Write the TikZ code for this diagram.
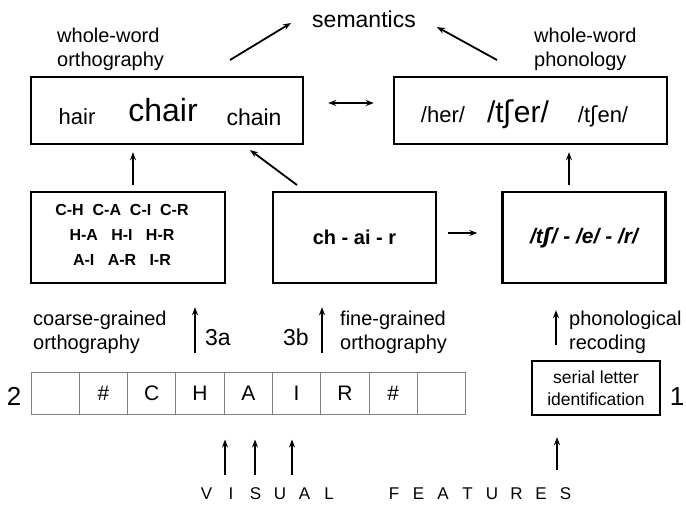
\documentclass[tikz,border=0pt]{standalone}
\usepackage{fontspec}
\setmainfont{Liberation Sans}
\newfontfamily\ipafont{DejaVu Sans}
\usetikzlibrary{arrows.meta}

\newcommand{\esh}{{\ipafont ʃ}}
\newcommand{\lsp}[1]{\makebox[24.5pt]{#1}}
\newcommand{\fs}[1]{\fontsize{#1}{1.2\dimexpr#1pt\relax}\selectfont}

\tikzset{
  box/.style={draw, line width=2.4pt, inner sep=0pt},
  cell/.style={draw=gray, line width=1pt, minimum width=48.3pt, minimum height=42pt, inner sep=0pt, font=\fs{21}},
  arr/.style={-{Stealth[length=8pt,width=6pt]}, line width=1.8pt},
  lbl/.style={align=left, anchor=west, inner sep=0pt, font=\fontsize{20}{24}\selectfont},
  word/.style={anchor=base, inner sep=0pt},
}

\begin{document}
\begin{tikzpicture}[x=1pt,y=-1pt]
\useasboundingbox (0,0) rectangle (686,504);

% top level
\node[word, font=\fs{23}] (sem) at (364,27) {semantics};
\node[lbl] (wwo) at (57,49) {whole-word\\orthography};
\node[lbl] (wwp) at (534,49) {whole-word\\phonology};

% whole-word boxes
\node[box, minimum width=272pt, minimum height=67pt] (orth) at (167,110.5) {};
\node[box, minimum width=273pt, minimum height=67pt] (phon) at (530.5,110.5) {};
\node[word, font=\fs{22}] (hair) at (77,124) {hair};
\node[word, font=\fs{32}] (chair) at (163,121) {chair};
\node[word, font=\fs{23}] (chain) at (254,125) {chain};
\node[word, font=\fs{22}] (her) at (443,122) {/her/};
\node[word, font=\fs{30}] (tsher) at (518,122) {/t\esh er/};
\node[word, font=\fs{22}] (tshen) at (603,122) {/t\esh en/};

% sublexical boxes
\node[box, minimum width=194pt, minimum height=91pt] (coarse) at (128,237.5) {};
\node[align=center, inner sep=0pt, font=\bfseries\fontsize{16}{25}\selectfont] (pairs) at (122,235)
  {C-H\ \ C-A\ \ C-I\ \ C-R\\H-A\ \ \ H-I\ \ \ H-R\\A-I\ \ \ A-R\ \ \ I-R};
\node[box, minimum width=163pt, minimum height=91pt, font=\bfseries\fs{20}] (fine) at (354.5,237.5) {ch - ai - r};
\node[box, minimum width=163pt, minimum height=91pt, font=\bfseries\itshape\fs{21}] (phseq) at (584,237.5) {/t\esh/ - /e/ - /r/};

% labels of the routes
\node[lbl] (cgo) at (33,332) {coarse-grained\\orthography};
\node[lbl] (fgo) at (340,332) {fine-grained\\orthography};
\node[lbl] (prec) at (569,332) {phonological\\recoding};
\node[word, font=\fs{23}] (l3a) at (218,345) {3a};
\node[word, font=\fs{23}] (l3b) at (296,345) {3b};

% letter array
\foreach \l [count=\i] in {{},\#,C,H,A,I,R,\#,{}}
  \node[cell] (c\i) at ({6.85+48.3*\i},393) {\l};
\node[word, font=\fs{26}] (two) at (14,405) {2};
\node[box, minimum width=128pt, minimum height=54pt, align=center, font=\fontsize{17.5}{22}\selectfont] (serial) at (596,388)
  {serial letter\\identification};
\node[word, font=\fs{26}] (one) at (677,405) {1};

\node[word, font=\fs{17}] (vf) at (386,499)
  {\lsp{V}\lsp{I}\lsp{S}\lsp{U}\lsp{A}\lsp{L}\hspace{40.5pt}\lsp{F}\lsp{E}\lsp{A}\lsp{T}\lsp{U}\lsp{R}\lsp{E}\lsp{S}};

% connectors
\coordinate (o2s) at (230,60);
\coordinate (o2s-h) at (291,23);
\coordinate (p2s) at (497,60);
\coordinate (p2s-h) at (437,27);
\draw[arr] (o2s) -- (o2s-h);
\draw[arr] (p2s) -- (p2s-h);
\draw[{Stealth[length=8pt,width=6pt]}-{Stealth[length=8pt,width=6pt]}, line width=1.8pt, shorten <=24pt, shorten >=19pt]
  ([yshift=7.5pt]orth.east) -- ([yshift=7.5pt]phon.west);

\coordinate (up1) at (133,185);
\coordinate (up2) at (569,185);
\coordinate (dg) at (297,185);
\coordinate (dg-h) at (250,150);
\draw[arr, shorten >=7pt] (up1) -- (up1 |- orth.south);
\draw[arr, shorten >=7pt] (up2) -- (up2 |- phon.south);
\draw[arr] (dg) -- (dg-h);
\draw[arr, shorten <=11pt, shorten >=24pt] ([yshift=4.5pt]fine.east) -- ([yshift=4.5pt]phseq.west);

\coordinate (up3a) at (195,353);
\coordinate (up3b) at (322,353);
\coordinate (uprec) at (556,345);
\draw[arr, shorten >=23pt] (up3a) -- (up3a |- coarse.south);
\draw[arr, shorten >=23pt] (up3b) -- (up3b |- fine.south);
\draw[arr, shorten >=26pt] (uprec) -- (uprec |- phseq.south);

\foreach \x [count=\k] in {225,255,292} {
  \coordinate (upv\k) at (\x,475);
  \draw[arr, shorten >=25pt] (upv\k) -- (upv\k |- c1.south);
}
\coordinate (upser) at (557,470);
\draw[arr, shorten >=21pt] (upser) -- (upser |- serial.south);
\end{tikzpicture}
\end{document}
